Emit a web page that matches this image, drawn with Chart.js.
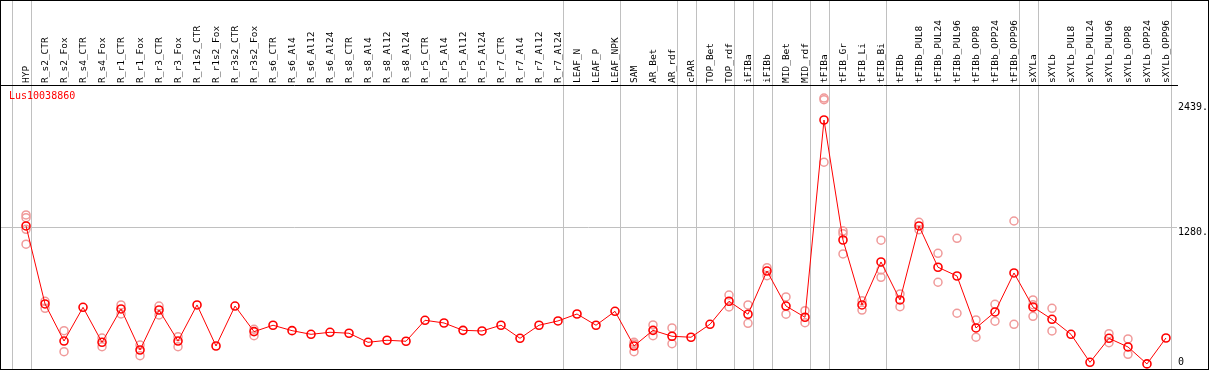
<!DOCTYPE html>
<html>
<head>
<meta charset="utf-8">
<script src="https://cdn.jsdelivr.net/npm/chart.js@4"></script>
<style>
  html, body { margin: 0; padding: 0; background: #fff; }
  #wrap { width: 1209px; height: 370px; }
</style>
</head>
<body>
<div id="wrap"><canvas id="exprChart"></canvas></div>
<script>
// gene shown in the panel
const geneName = 'Lus10038860';

const categories = [
    'HYP', 'R_s2_CTR', 'R_s2_Fox', 'R_s4_CTR', 'R_s4_Fox', 'R_r1_CTR', 'R_r1_Fox', 'R_r3_CTR', 'R_r3_Fox',
    'R_r1s2_CTR', 'R_r1s2_Fox', 'R_r3s2_CTR', 'R_r3s2_Fox', 'R_s6_CTR', 'R_s6_Al4', 'R_s6_Al12', 'R_s6_Al24',
    'R_s8_CTR', 'R_s8_Al4', 'R_s8_Al12', 'R_s8_Al24', 'R_r5_CTR', 'R_r5_Al4', 'R_r5_Al12', 'R_r5_Al24',
    'R_r7_CTR', 'R_r7_Al4', 'R_r7_Al12', 'R_r7_Al24', 'LEAF_N', 'LEAF_P', 'LEAF_NPK', 'SAM', 'AR_Bet', 'AR_rdf',
    'cPAR', 'TOP_Bet', 'TOP_rdf', 'iFIBa', 'iFIBb', 'MID_Bet', 'MID_rdf', 'tFIBa', 'tFIB_Gr', 'tFIB_Li', 'tFIB_Bi',
    'tFIBb', 'tFIBb_PUL8', 'tFIBb_PUL24', 'tFIBb_PUL96', 'tFIBb_OPP8', 'tFIBb_OPP24', 'tFIBb_OPP96',
    'sXYLa', 'sXYLb', 'sXYLb_PUL8', 'sXYLb_PUL24', 'sXYLb_PUL96', 'sXYLb_OPP8', 'sXYLb_OPP24', 'sXYLb_OPP96'
];

// mean expression per sample
const means = [
    1296, 574, 231, 543, 219, 528, 148, 518, 231,
    565, 185, 555, 318, 377, 327, 293, 312,
    303, 219, 238, 229, 423, 398, 330, 324,
    377, 256, 377, 417, 481, 377, 506, 185, 330, 275,
    266, 386, 599, 479, 879, 555, 451, 2277, 1166, 565, 963,
    611, 1296, 914, 833, 352, 500, 861,
    546, 432, 293, 34, 256, 176, 19, 259
];

// individual replicates (only those that show next to the mean)
const replicates = [
    [1398, 1373, 1265, 1127], [599, 534], [327, 132], [], [259, 179], [565, 481], [194, 95], [555, 472], [271, 179],
    [], [], [], [340, 280], [], [], [], [],
    [], [], [], [], [], [], [], [],
    [], [], [], [], [], [], [], [219, 204, 132], [380, 280], [352, 206],
    [], [], [657, 546], [565, 395], [910, 836], [639, 479], [512, 401], [2480, 2465, 1886], [1250, 1225, 1037], [604, 518], [1164, 889, 821],
    [667, 549], [1330, 1262], [1043, 775], [1182, 488], [426, 266], [571, 414], [1342, 386],
    [611, 567, 460], [534, 324], [], [], [299, 216], [250, 108], [], []
];

const yTicks = [0, 1280, 2439];
const yTickLabels = ['0', '1280.', '2439.'];

// last sample index of each tissue group (separator lines)
const groupEnds = [-1, 0, 28, 31, 34, 35, 37, 38, 39, 41, 42, 45, 52, 53, 60];

const FONT = { family: 'DejaVu Sans Mono', size: 9.5 };

const overlay = {
    id: 'overlay',
    beforeDraw(chart) {
        const c = chart.ctx;
        const x = chart.scales.x;
        const area = chart.chartArea;
        c.save();
        c.strokeStyle = '#c0c0c0';
        c.lineWidth = 1;
        groupEnds.forEach(b => {
            const px = Math.round(x.getPixelForValue(b + 0.25)) + 0.5;
            c.beginPath();
            c.moveTo(px, 0);
            c.lineTo(px, area.bottom);
            c.stroke();
        });
        c.restore();
    },
    afterDraw(chart) {
        const c = chart.ctx;
        const y = chart.scales.y;
        const area = chart.chartArea;
        c.save();
        c.font = '10px "DejaVu Sans Mono"';
        c.textAlign = 'left';
        c.textBaseline = 'middle';
        c.fillStyle = '#000';
        yTicks.forEach((v, i) => {
            const py = Math.min(y.getPixelForValue(v) + 5, area.bottom - 7);
            c.fillText(yTickLabels[i], area.right + 1, py);
        });
        c.fillStyle = '#ff0000';
        c.fillText(geneName, area.left + 9, area.top + 11);
        // outer frame
        c.strokeStyle = '#000';
        c.lineWidth = 1;
        c.strokeRect(0.5, 0.5, chart.width - 1, chart.height - 1);
        c.restore();
    }
};

const repPoints = [];
replicates.forEach((vals, i) => vals.forEach(v => repPoints.push({ x: i, y: v })));

const exprChart = new Chart(document.getElementById('exprChart').getContext('2d'), {
    type: 'line',
    data: {
        datasets: [
            {
                label: 'mean',
                data: means.map((v, i) => ({ x: i, y: v })),
                borderColor: '#ff0000',
                borderWidth: 1,
                pointRadius: 4,
                pointBorderWidth: 1.6,
                pointBorderColor: '#ff0000',
                pointBackgroundColor: 'rgba(0,0,0,0)',
                tension: 0
            },
            {
                type: 'scatter',
                label: 'replicates',
                data: repPoints,
                showLine: false,
                pointRadius: 4,
                pointBorderWidth: 1.5,
                pointBorderColor: '#f09a9a',
                pointBackgroundColor: 'rgba(0,0,0,0)'
            }
        ]
    },
    options: {
        responsive: true,
        maintainAspectRatio: false,
        animation: false,
        layout: { autoPadding: false, padding: { top: 0, left: 0, right: 0, bottom: 1 } },
        plugins: {
            legend: { display: false },
            tooltip: { enabled: false }
        },
        scales: {
            x: {
                type: 'linear',
                position: 'top',
                min: -1.37,
                max: 60.58,
                afterBuildTicks: (scale) => {
                    scale.ticks = categories.map((c, i) => ({ value: i }));
                },
                afterFit: (scale) => {
                    scale.height = 85;
                    scale.paddingLeft = 0;
                    scale.paddingRight = 0;
                },
                grid: { display: false, drawTicks: false },
                border: { display: true, color: '#000', width: 1 },
                ticks: {
                    autoSkip: false,
                    minRotation: 90,
                    maxRotation: 90,
                    padding: 2,
                    labelOffset: 12,
                    color: '#000',
                    font: FONT,
                    callback: (value) => categories[value]
                }
            },
            y: {
                type: 'linear',
                position: 'right',
                min: -28,
                max: 2601,
                afterBuildTicks: (scale) => {
                    scale.ticks = yTicks.map(v => ({ value: v }));
                },
                afterFit: (scale) => {
                    scale.width = 32;
                    scale.paddingTop = 0;
                    scale.paddingBottom = 0;
                },
                grid: {
                    drawTicks: false,
                    color: (c) => (c.tick && c.tick.value === 1280 ? '#c0c0c0' : 'rgba(0,0,0,0)')
                },
                border: { display: false },
                ticks: { display: false }
            }
        }
    },
    plugins: [overlay]
});
</script>
</body>
</html>
